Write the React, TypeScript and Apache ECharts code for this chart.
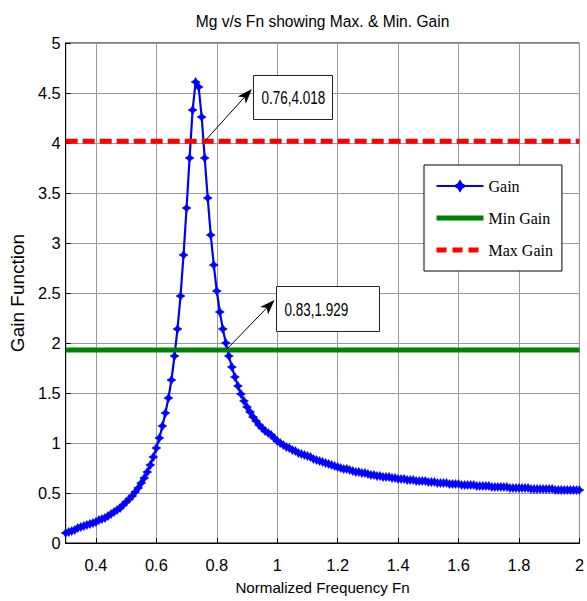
import React, { useEffect, useRef } from 'react';
import * as echarts from 'echarts';

// ---------- data ----------
const chartTitle = 'Mg v/s Fn showing Max. & Min. Gain';
const xAxisName = 'Normalized Frequency Fn';
const yAxisName = 'Gain Function';
const seriesNames = ['Gain', 'Min Gain', 'Max Gain'];

// normalized frequency sampled from 0.30 to 2.00 in steps of 0.01
const freqStart = 0.3;
const freqStep = 0.01;
const gain = [
  // 0.30 – 0.39
  0.10, 0.11, 0.12, 0.13, 0.15, 0.16, 0.17, 0.18, 0.19, 0.20,
  // 0.40 – 0.49
  0.21, 0.23, 0.24, 0.25, 0.27, 0.29, 0.31, 0.33, 0.35, 0.38,
  // 0.50 – 0.59
  0.41, 0.44, 0.47, 0.51, 0.55, 0.60, 0.65, 0.71, 0.78, 0.86,
  // 0.60 – 0.69
  0.95, 1.05, 1.17, 1.30, 1.45, 1.63, 1.87, 2.14, 2.47, 2.88,
  // 0.70 – 0.79
  3.35, 3.85, 4.33, 4.61, 4.56, 4.26, 3.85, 3.45, 3.08, 2.78,
  // 0.80 – 0.89
  2.52, 2.31, 2.14, 2.00, 1.87, 1.76, 1.66, 1.57, 1.49, 1.42,
  // 0.90 – 0.99
  1.36, 1.31, 1.26, 1.22, 1.18, 1.15, 1.12, 1.10, 1.08, 1.05,
  // 1.00 – 1.09
  1.02, 1.00, 0.98, 0.96, 0.95, 0.93, 0.92, 0.90, 0.89, 0.88,
  // 1.10 – 1.19
  0.87, 0.86, 0.84, 0.83, 0.82, 0.81, 0.80, 0.79, 0.78, 0.77,
  // 1.20 – 1.29
  0.76, 0.75, 0.74, 0.74, 0.73, 0.72, 0.71, 0.71, 0.70, 0.70,
  // 1.30 – 1.39
  0.69, 0.68, 0.68, 0.67, 0.67, 0.66, 0.66, 0.66, 0.65, 0.65,
  // 1.40 – 1.49
  0.64, 0.64, 0.64, 0.63, 0.63, 0.63, 0.62, 0.62, 0.62, 0.62,
  // 1.50 – 1.59
  0.61, 0.61, 0.61, 0.60, 0.60, 0.60, 0.60, 0.59, 0.59, 0.59,
  // 1.60 – 1.69
  0.59, 0.58, 0.58, 0.58, 0.58, 0.58, 0.57, 0.57, 0.57, 0.57,
  // 1.70 – 1.79
  0.57, 0.56, 0.56, 0.56, 0.56, 0.56, 0.56, 0.55, 0.55, 0.55,
  // 1.80 – 1.89
  0.55, 0.55, 0.55, 0.55, 0.54, 0.54, 0.54, 0.54, 0.54, 0.54,
  // 1.90 – 1.99
  0.54, 0.54, 0.53, 0.53, 0.53, 0.53, 0.53, 0.53, 0.53, 0.53,
  // 2.00
  0.53,
];
const minGain = 1.929;
const maxGain = 4.018;
const xRange = [0.3, 2];
const yRange = [0, 5];

// data-cursor annotations: label, marked point, arrow head (data coords)
const annotationLabels = ['0.76,4.018', '0.83,1.929'];
const annotationPoints = [[0.76, 4.018], [0.83, 1.929]];
const annotationHeads = [[0.916, 4.54], [0.991, 2.43]];

// ---------- layout / style ----------
const W = 587;
const H = 601;
const GRID = { left: 60, right: 2, top: 43, bottom: 58 };
const annotationBoxSizes = [[79, 44], [103, 45]];

function hasFont(name: string): boolean {
  try {
    const ctx = document.createElement('canvas').getContext('2d');
    if (!ctx) return false;
    const s = 'mmmmmmmmmmlli0.4,1929 Gain';
    ctx.font = '40px monospace';
    const w0 = ctx.measureText(s).width;
    ctx.font = `40px '${name}', monospace`;
    const w1 = ctx.measureText(s).width;
    return Math.abs(w0 - w1) > 0.5;
  } catch (e) {
    return false;
  }
}

export default function App() {
  const ref = useRef<HTMLDivElement>(null);

  useEffect(() => {
    if (!ref.current) return;
    const narrow = hasFont('Liberation Sans Narrow');
    const sans = narrow
      ? "'Liberation Sans Narrow', 'Liberation Sans', Arial, sans-serif"
      : "'Liberation Sans', Arial, sans-serif";
    const k = narrow ? 1 : 0.82;
    const serif = "'Liberation Serif', 'Times New Roman', serif";

    const chart = echarts.init(ref.current, undefined, { renderer: 'svg' });

    const gainData = gain.map((g, i) => [
      Math.round((freqStart + i * freqStep) * 100) / 100,
      g,
    ]);

    const star = 'path://M4,0 L5.5,2.5 L8,4 L5.5,5.5 L4,8 L2.5,5.5 L0,4 L2.5,2.5 Z';
    const centerX = GRID.left + (W - GRID.left - GRID.right) / 2;

    chart.setOption({
      animation: false,
      backgroundColor: '#ffffff',
      title: {
        text: chartTitle,
        left: centerX,
        top: 13,
        padding: 0,
        textAlign: 'center',
        textStyle: {
          fontFamily: sans,
          fontSize: 19 * k,
          fontWeight: 'normal',
          color: '#000',
        },
      },
      legend: {
        data: [
          { name: seriesNames[0] },
          {
            name: seriesNames[1],
            itemStyle: { opacity: 0 },
            lineStyle: { width: 5, color: '#008000' },
          },
          {
            name: seriesNames[2],
            itemStyle: { opacity: 0 },
            lineStyle: { width: 5, color: '#ff0000', type: [10, 6] },
          },
        ],
        orient: 'vertical',
        left: 424,
        top: 165,
        padding: [13, 9, 13, 10],
        itemWidth: 47,
        itemHeight: 12,
        itemGap: 16,
        selectedMode: false,
        backgroundColor: '#ffffff',
        borderColor: '#000',
        borderWidth: 1,
        textStyle: { fontFamily: serif, fontSize: 16, color: '#000' },
      },
      grid: {
        left: GRID.left,
        right: GRID.right,
        top: GRID.top,
        bottom: GRID.bottom,
        show: true,
        borderColor: '#000',
        borderWidth: 1,
        backgroundColor: '#fff',
      },
      xAxis: {
        type: 'value',
        min: xRange[0],
        max: xRange[1],
        splitNumber: 8,
        minInterval: 0.2,
        maxInterval: 0.2,
        name: xAxisName,
        nameLocation: 'middle',
        nameGap: 37,
        nameTextStyle: { fontFamily: sans, fontSize: 18.5 * k, color: '#000' },
        axisLine: { show: true, onZero: false, lineStyle: { color: '#000', width: 1 } },
        axisTick: { show: true, inside: true, length: 5, lineStyle: { color: '#000' } },
        axisLabel: {
          showMinLabel: false,
          showMaxLabel: true,
          margin: 14,
          fontFamily: sans,
          fontSize: 20 * k,
          color: '#000',
        },
        splitLine: { show: true, lineStyle: { color: '#9a9a9a', width: 1 } },
      },
      yAxis: {
        type: 'value',
        min: yRange[0],
        max: yRange[1],
        interval: 0.5,
        name: yAxisName,
        nameLocation: 'middle',
        nameRotate: 90,
        nameGap: 32,
        nameTextStyle: {
          fontFamily: "'Liberation Sans', Arial, sans-serif",
          fontSize: 19,
          color: '#000',
        },
        axisLine: { show: true, onZero: false, lineStyle: { color: '#000', width: 1 } },
        axisTick: { show: true, inside: true, length: 5, lineStyle: { color: '#000' } },
        axisLabel: { margin: 5, fontFamily: sans, fontSize: 20 * k, color: '#000' },
        splitLine: { show: true, lineStyle: { color: '#9a9a9a', width: 1 } },
      },
      series: [
        {
          name: seriesNames[0],
          type: 'line',
          data: gainData,
          symbol: star,
          symbolSize: 9,
          showSymbol: true,
          showAllSymbol: true,
          lineStyle: { color: '#0000ff', width: 2.2 },
          itemStyle: { color: '#0000ff', borderColor: '#0000ff', borderWidth: 0.6 },
          z: 2,
        },
        {
          name: seriesNames[1],
          type: 'line',
          data: [[xRange[0], minGain], [xRange[1], minGain]],
          symbol: 'none',
          lineStyle: { color: '#008000', width: 5 },
          itemStyle: { color: '#008000' },
          z: 3,
        },
        {
          name: seriesNames[2],
          type: 'line',
          data: [[xRange[0], maxGain], [xRange[1], maxGain]],
          symbol: 'none',
          lineStyle: { color: '#ff0000', width: 5, type: [12, 5] },
          itemStyle: { color: '#ff0000' },
          z: 3,
        },
      ],
    });

    // annotations (arrows + labelled boxes) placed via the axes' own scales
    const graphics: any[] = [];
    annotationLabels.forEach((label, i) => {
      const p = chart.convertToPixel({ xAxisIndex: 0, yAxisIndex: 0 }, annotationPoints[i]) as number[];
      const h = chart.convertToPixel({ xAxisIndex: 0, yAxisIndex: 0 }, annotationHeads[i]) as number[];
      const dx = h[0] - p[0];
      const dy = h[1] - p[1];
      const len = Math.sqrt(dx * dx + dy * dy) || 1;
      const ux = dx / len;
      const uy = dy / len;
      const px = -uy;
      const py = ux;
      const aL = 15;
      const aW = 5.5;
      const notch = 11;
      const bx = h[0] - ux * aL;
      const by = h[1] - uy * aL;
      graphics.push({
        type: 'line',
        z: 100,
        shape: { x1: p[0], y1: p[1], x2: h[0] - ux * notch, y2: h[1] - uy * notch },
        style: { stroke: '#000', lineWidth: 1 },
      });
      graphics.push({
        type: 'polygon',
        z: 100,
        shape: {
          points: [
            [h[0], h[1]],
            [bx + px * aW, by + py * aW],
            [h[0] - ux * notch, h[1] - uy * notch],
            [bx - px * aW, by - py * aW],
          ],
        },
        style: { fill: '#000' },
      });
      const [bw, bh] = annotationBoxSizes[i];
      const boxX = Math.round(h[0] + 1) + 0.5;
      const boxY = Math.round(h[1] - 14) + 0.5;
      graphics.push({
        type: 'rect',
        z: 100,
        shape: { x: boxX, y: boxY, width: bw, height: bh },
        style: { fill: '#fff', stroke: '#222', lineWidth: 1 },
      });
      graphics.push({
        type: 'text',
        z: 101,
        x: boxX + 8,
        y: boxY + bh / 2,
        scaleY: narrow ? 1.2 : 1.4,
        style: {
          text: label,
          fontFamily: sans,
          fontSize: 16.5 * k,
          fill: '#000',
          align: 'left',
          verticalAlign: 'middle',
        },
      });
    });
    chart.setOption({ graphic: graphics });

    return () => {
      chart.dispose();
    };
  }, []);

  return (
    <div
      ref={ref}
      style={{ position: 'fixed', left: 0, top: 0, width: W, height: H, background: '#fff' }}
    />
  );
}
